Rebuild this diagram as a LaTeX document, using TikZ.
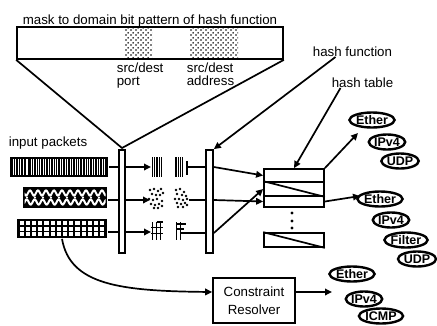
\documentclass[tikz,border=0pt]{standalone}
\usepackage{fontspec}
\setmainfont{Liberation Sans}
\usetikzlibrary{arrows.meta,patterns,shapes.geometric}
% stipple used for the selected mask fields
\pgfdeclarepatternformonly{stipple}{\pgfpointorigin}{\pgfqpoint{5pt}{5pt}}{\pgfqpoint{5pt}{5pt}}{%
  \pgfpathcircle{\pgfqpoint{1.2pt}{1.2pt}}{1pt}%
  \pgfpathcircle{\pgfqpoint{3.7pt}{3.7pt}}{1pt}%
  \pgfusepath{fill}}
\begin{document}
\begin{tikzpicture}[x=1pt,y=-1pt,line width=1.7pt,
  lbl/.style={inner sep=0pt,font=\fontsize{13.3}{15}\selectfont},
  bar/.style={draw,fill=white,minimum width=6pt,minimum height=103pt,inner sep=0pt},
  arr/.style={-{Triangle[length=7pt,width=6.5pt]}},
  proto/.style={ellipse,draw,line width=2.4pt,inner sep=0pt,minimum height=15pt,
    font=\fontsize{12.5}{14}\selectfont\bfseries},
  cell/.style={draw,minimum width=60pt,inner sep=0pt},
  pkt/.style={fill=black,inner sep=0pt}]
\useasboundingbox (0,0) rectangle (437,325);

% ---- mask bar with the two selected fields
\node[draw,minimum width=266pt,minimum height=32pt,inner sep=0pt] (mask) at (150,43) {};
\node[pattern=stipple,minimum width=28pt,minimum height=31pt,inner sep=0pt] (pa) at (138,43) {};
\node[pattern=stipple,minimum width=49pt,minimum height=31pt,inner sep=0pt] (pb) at (213.5,43) {};
\node[lbl,anchor=base] (title) at (150,24) {mask to domain bit pattern of hash function};
\node[lbl,anchor=base west] (pa1) at (116,72) {src/dest};
\node[lbl,anchor=base west] (pa2) at (116,85) {port};
\node[lbl,anchor=base west] (pb1) at (186,72) {src/dest};
\node[lbl,anchor=base west] (pb2) at (186,85) {address};

% ---- funnel down to the first bar
\coordinate (apex) at (122,148);
\draw (mask.south west) -- (apex) -- (mask.south east);

% ---- bars
\node[bar] (bar1) at (122,201.5) {};
\node[bar,minimum width=7pt] (bar2) at (209.5,201.5) {};

% ---- input packets
\node[lbl,anchor=base west] (inp) at (8,146) {input packets};
\node[pkt,minimum width=98pt,minimum height=20pt] (p1) at (59,167) {};
\node[pkt,minimum width=84pt,minimum height=21pt] (p2) at (65,197.5) {};
\node[pkt,minimum width=90pt,minimum height=19pt] (p3) at (62,228.5) {};

% stripes of packet 1
\foreach \x/\w in {13/.6,15.5/.8,18/.5,20/.7,23.5/.9,26/.5,27.5/.6,31/.8,33/.5,36/.7,
  38.5/.6,40/.5,43/.8,45.5/.6,48/.7,50/.5,53/.8,55.5/.6,57/.5,60/.7,62.5/.8,65/.5,
  67/.6,70/.8,72.5/.5,75/.7,77/.6,79.5/.8,82/.5,85/.7,87/.6,89.5/.8,92/.5,94/.7,
  97/.6,99.5/.8,102/.5,104.5/.7}
  \draw[white,line width=\w pt] (\x,159) -- (\x,175);
% blobs of packet 2
\begin{scope}
  \clip (24.5,189) rectangle (105.5,206);
  \draw[white,line width=2pt,domain=24:106,samples=120,smooth]
    plot (\x,{193+2.6*sin(\x*45)});
  \draw[white,line width=2pt,domain=24:106,samples=120,smooth]
    plot (\x,{202+2.6*sin(\x*45+150)});
  \foreach \x in {27,35,...,105} \fill[white] (\x,197.5) circle (1.2);
\end{scope}
% grid of packet 3
\foreach \i in {0,...,13}
  \foreach \j in {0,1,2}
    \fill[white] ({19.5+\i*6.2},{221+\j*5.7}) rectangle +(4.2,3.8);

% ---- packets to the first bar
\coordinate (r1) at (151,167);
\coordinate (r2) at (150,200);
\coordinate (r3) at (151,232);
\draw (p1.east) -- (p1.east -| bar1.west);
\draw (p2.east |- r2) -- (bar1.west |- r2);
\draw (p3.east |- r3) -- (bar1.west |- r3);
\draw[arr] (bar1.east |- r1) -- (r1);
\draw[arr] (bar1.east |- r2) -- (r2);
\draw[arr] (bar1.east |- r3) -- (r3);

% ---- extracted fields, row 1
\foreach \x in {152.5,154.7,156.9,159.1,161.3}
  \draw[line width=1.2pt] (\x,157) -- (\x,177);
\foreach \x in {176,178.2,180.4,182.6}
  \draw[line width=1.2pt] (\x,157) -- (\x,177);
\coordinate (q1) at (187,167);
\draw (187,161) -- (187,175);
\draw (q1) -- (q1 -| bar2.west);

% ---- extracted fields, row 2
\foreach \dx/\dy in {0/-8,4/-9,8/-7,11/-9,2/-4,6/-3,10/-3,13/-5,-1/1,3/2,7/1,12/3,
  1/6,5/7,9/6,12/8,4/10,8/10}
  \fill ({150+\dx},{198+\dy}) circle (1.4);
\foreach \dx/\dy in {1/-8,5/-9,9/-6,2/-4,7/-3,11/-2,0/1,4/1,8/2,12/1,2/5,6/6,10/5,
  3/9,8/9,12/7}
  \fill ({175+\dx},{198+\dy}) circle (1.4);
\coordinate (q2) at (189,200);
\draw (q2) -- (q2 -| bar2.west);

% ---- extracted fields, row 3
\foreach \x in {152.5,156.5,160.5}
  \draw[line width=1.2pt] (\x,222) -- (\x,240);
\draw[line width=1.2pt] (151,227.5) -- (163,227.5) (151,233.5) -- (163,233.5) (156.5,222) -- (163,222);
\foreach \x in {176.5,180.5}
  \draw[line width=1.2pt] (\x,222) -- (\x,240);
\draw[line width=1.2pt] (176,224) -- (186,224) (176,229) -- (184,229);
\coordinate (q3) at (180,233);
\draw (q3) -- (q3 -| bar2.west);

% ---- hash table
\node[cell,minimum height=13pt] (ht1) at (294,175.5) {};
\node[cell,minimum height=14pt] (ht2) at (294,189) {};
\node[cell,minimum height=11pt] (ht3) at (294,201.5) {};
\draw (ht2.north west) -- (ht2.south east);
\node[cell,minimum height=14pt] (htb) at (294,240) {};
\draw (htb.north west) -- (htb.south east);
\foreach \y in {213,221,228} \fill (292,\y) circle (1.7);

\draw[arr] (bar2.east |- q1) -- (ht1.west);
\draw[arr] (bar2.east |- q2) -- (ht3.west);
\draw[arr] (bar2.east |- q3) -- (ht2.west);

% ---- labels with pointers
\node[lbl,anchor=base] (hf) at (352.5,56) {hash function};
\node[lbl,anchor=base] (htl) at (362.5,87) {hash table};
\draw[arr] ([xshift=-17pt]hf.south) -- (bar2.north east);
\draw[arr] ([xshift=-22pt]htl.south) -- (ht1.north);

% ---- protocol stacks
\node[proto,minimum width=38pt] (e1) at (372,120) {Ether};
\node[proto,minimum width=35pt] (i1) at (387,142) {IPv4};
\node[proto,minimum width=37pt] (u1) at (400,161) {UDP};
\node[proto,minimum width=37pt] (e2) at (380,199) {Ether};
\node[proto,minimum width=34pt] (i2) at (391,220) {IPv4};
\node[proto,minimum width=38pt] (f2) at (406,240) {Filter};
\node[proto,minimum width=38pt] (u2) at (417,259) {UDP};
\node[proto,minimum width=39pt] (e3) at (352,274) {Ether};
\node[proto,minimum width=36pt] (i3) at (364,299) {IPv4};
\node[proto,minimum width=41pt] (c3) at (381,316) {ICMP};

\coordinate (t1) at (358,133);
\coordinate (t2) at (360,196);
\coordinate (t3) at (332,292);
\draw[arr] (ht1.north east) -- (t1);
\draw[arr] (ht3.east) -- (t2);

% ---- constraint resolver
\node[draw,inner sep=0pt,minimum width=82pt,minimum height=45pt,align=center,
  font=\fontsize{13.3}{18}\selectfont] (cr) at (254,300.5) {Constraint\\Resolver};
\draw[arr] (cr.east |- t3) -- (t3);
\draw[arr] (p3.south) .. controls (70,285) and (120,291) .. (cr.west |- t3);
\end{tikzpicture}
\end{document}
